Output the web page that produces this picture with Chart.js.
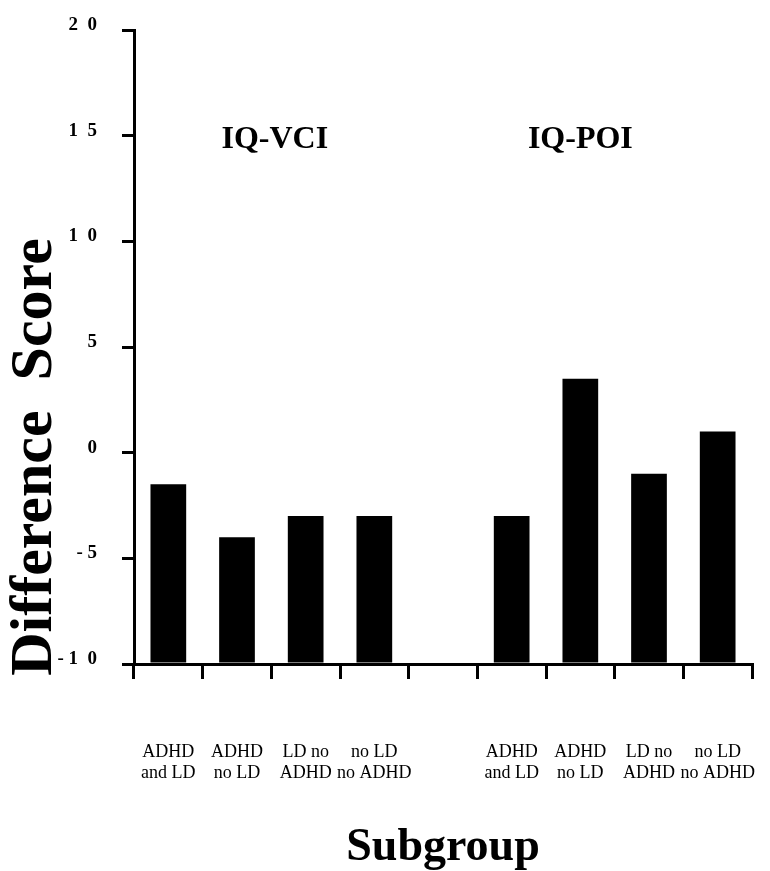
<!DOCTYPE html>
<html>
<head>
<meta charset="utf-8">
<style>
  html, body { margin: 0; padding: 0; background: #fff; }
  #wrap { width: 770px; height: 871px; }
</style>
<script src="https://cdn.jsdelivr.net/npm/chart.js@4.4.1/dist/chart.umd.min.js"></script>
</head>
<body>
<div id="wrap"><canvas id="c" width="770" height="871"></canvas></div>
<script>
// ---- data ----
const categories = [
  ['ADHD', 'and LD'], ['ADHD', 'no LD'], ['LD no', 'ADHD'], ['no LD', 'no ADHD'],
  '',
  ['ADHD', 'and LD'], ['ADHD', 'no LD'], ['LD no', 'ADHD'], ['no LD', 'no ADHD']
];
const vciValues = [-1.5, -4, -3, -3];
const poiValues = [-3, 3.5, -1, 1];
const groupLabels = ['IQ-VCI', 'IQ-POI'];
const yTickValues = [-10, -5, 0, 5, 10, 15, 20];
const yTickLabels = ['- 1  0', '- 5', '0', '5', '1  0', '1  5', '2  0'];
const yTitle = 'Difference  Score';
const xTitle = 'Subgroup';

const values = [...vciValues, null, ...poiValues];
const SERIF = "'Liberation Serif', 'Times New Roman', Times, serif";

const annotations = {
  id: 'annotations',
  afterDraw(chart) {
    const ctx = chart.ctx;
    const x = chart.scales.x, y = chart.scales.y;
    const step = x.getPixelForValue(1) - x.getPixelForValue(0);
    const ty = y.getPixelForValue(15) + 4;
    ctx.save();
    ctx.fillStyle = '#000';
    ctx.font = 'bold 32px ' + SERIF;
    ctx.textAlign = 'center';
    ctx.textBaseline = 'middle';
    ctx.fillText(groupLabels[0], x.getPixelForValue(1) + step * 0.55, ty);
    ctx.fillText(groupLabels[1], x.getPixelForValue(6), ty);
    // y axis title
    ctx.translate(35, 457);
    ctx.rotate(-Math.PI / 2);
    ctx.font = 'bold 60px ' + SERIF;
    ctx.fillText(yTitle, 0, 0);
    ctx.restore();
  }
};

new Chart(document.getElementById('c'), {
  type: 'bar',
  data: {
    labels: categories,
    datasets: [{
      data: values,
      base: -10,
      backgroundColor: '#000',
      borderWidth: 0,
      barPercentage: 0.52,
      categoryPercentage: 1
    }]
  },
  options: {
    responsive: false,
    animation: false,
    layout: { padding: { top: 30, right: 18, left: 0, bottom: 0 } },
    plugins: { legend: { display: false }, tooltip: { enabled: false } },
    scales: {
      x: {
        afterFit(s) { s.height = 207; s.paddingLeft = 0; s.paddingRight = 0; },
        grid: { display: true, drawOnChartArea: false, drawTicks: true, tickLength: 15, lineWidth: 3, color: '#000', offset: true },
        border: { display: true, color: '#000', width: 3 },
        ticks: {
          color: '#000', padding: 63, maxRotation: 0, autoSkip: false,
          font: { family: SERIF, size: 18, lineHeight: 1.17 }
        },
        title: {
          display: true, text: xTitle, color: '#000',
          font: { family: SERIF, size: 46, weight: 'bold', lineHeight: 1 },
          padding: { top: 0, bottom: 0 }
        }
      },
      y: {
        min: -10, max: 20,
        afterFit(s) { s.width = 134; s.paddingTop = 0; s.paddingBottom = 0; },
        afterBuildTicks(s) { s.ticks = yTickValues.map(v => ({ value: v })); },
        grid: { display: true, drawOnChartArea: false, drawTicks: true, tickLength: 12, lineWidth: 3, color: '#000' },
        border: { display: true, color: '#000', width: 3 },
        ticks: {
          color: '#000', padding: 25, labelOffset: -5,
          font: { family: SERIF, size: 19, weight: 'bold' },
          callback(v) { const i = yTickValues.indexOf(v); return i >= 0 ? yTickLabels[i] : ''; }
        }
      }
    }
  },
  plugins: [annotations]
});
</script>
</body>
</html>
